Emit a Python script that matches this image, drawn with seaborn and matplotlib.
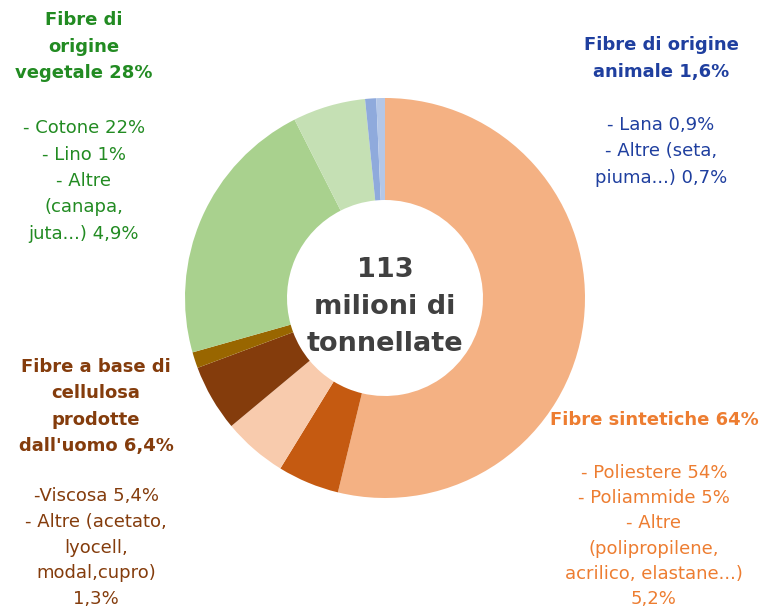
import matplotlib
matplotlib.use("Agg")
import matplotlib.pyplot as plt
import seaborn as sns

# Global fibre production, share by fibre (%), clockwise from top
fibres = ["Poliestere", "Poliammide", "Altre sintetiche", "Viscosa", "Altre cellulosiche",
          "Cotone", "Lino + altre vegetali", "Lana", "Altre animali"]
shares = [54, 5, 5.2, 5.4, 1.3, 22, 5.9, 0.9, 0.7]
colors = ["#F4B183", "#C55A11", "#F8CBAD", "#843C0C", "#996600",
          "#A9D18E", "#C5E0B4", "#8FAADC", "#B4C7E7"]

center_lines = ["113", "milioni di", "tonnellate"]

# label blocks: title lines, body lines, colour, centre x, title baseline, body baseline, line step (px)
groups = [
    (["Fibre di", "origine", "vegetale 28%"],
     ["- Cotone 22%", "- Lino 1%", "- Altre", "(canapa,", "juta...) 4,9%"],
     "#228B22", 84, 25, 133, 26.5),
    (["Fibre di origine", "animale 1,6%"],
     ["- Lana 0,9%", "- Altre (seta,", "piuma...) 0,7%"],
     "#1F3F9F", 661, 50, 130, 26.5),
    (["Fibre a base di", "cellulosa", "prodotte", "dall'uomo 6,4%"],
     ["-Viscosa 5,4%", "- Altre (acetato,", "lyocell,", "modal,cupro)", "1,3%"],
     "#843C0C", 96, 372, 501, 25.8),
    (["Fibre sintetiche 64%"],
     ["- Poliestere 54%", "- Poliammide 5%", "- Altre", "(polipropilene,",
      "acrilico, elastane...)", "5,2%"],
     "#ED7D31", 654, 425, 478, 25.2),
]

sns.set_theme(style="white")
plt.rcParams["font.family"] = ["DejaVu Sans"]

W, H = 760, 610
fig = plt.figure(figsize=(W / 100, H / 100), dpi=100)

cx, cy, r = 385, 298, 200
ax = fig.add_axes([(cx - r) / W, (H - cy - r) / H, 2 * r / W, 2 * r / H])
ax.pie(shares, colors=colors, startangle=90, counterclock=False,
       wedgeprops=dict(width=0.51, edgecolor="none"))
ax.set_aspect("equal")
ax.set_xlim(-1, 1)
ax.set_ylim(-1, 1)
ax.axis("off")


def put(x, y, s, **kw):
    fig.text(x / W, 1 - y / H, s, ha="center", va="baseline", **kw)


for i, s in enumerate(center_lines):
    put(cx, 277 + i * 37, s, fontsize=19.5, fontweight="bold", color="#404040")

for title, body, col, x, yt, yb, step in groups:
    for i, s in enumerate(title):
        put(x, yt + i * 26.5, s, fontsize=13, fontweight="bold", color=col)
    for i, s in enumerate(body):
        put(x, yb + i * step, s, fontsize=13, color=col)

fig.savefig("out.png", dpi=100)
